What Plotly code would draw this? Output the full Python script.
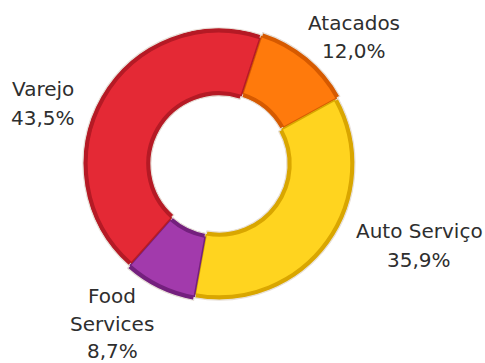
import plotly.graph_objects as go

# Sales channel shares (%)
categories = ["Atacados", "Auto Serviço", "Food Services", "Varejo"]
shares = [12.0, 35.9, 8.7, 43.5]
label_lines = [["Atacados"], ["Auto Serviço"], ["Food", "Services"], ["Varejo"]]

face_colors = ["#FF7A0C", "#FFD41F", "#A23AAC", "#E42935"]
rim_colors = ["#D65A00", "#D9A600", "#74207E", "#B51A25"]
pulls = [0.02, 0.0, 0.02, 0.0]

W, H = 485, 363
cx, cy = 219, 164          # donut centre in pixels
R_out, R_in = 136, 68      # outer / inner radius in pixels
bevel = 4


def domain(r, maxpull):
    half = r * (1 + maxpull)
    return dict(x=[(cx - half) / W, (cx + half) / W],
                y=[1 - (cy + half) / H, 1 - (cy - half) / H])


mp = max(pulls)
common = dict(labels=categories, values=shares, sort=False, direction="clockwise",
              rotation=18, pull=pulls, textinfo="none", hoverinfo="skip",
              showlegend=False)

fig = go.Figure()
# darker rim underneath
fig.add_trace(go.Pie(**common, hole=R_in / R_out, domain=domain(R_out, mp),
                     marker=dict(colors=rim_colors,
                                 line=dict(color="#E8E0D8", width=1.2))))
# brighter face on top, inset to leave a bevelled edge
fig.add_trace(go.Pie(**common, hole=(R_in + bevel) / (R_out - bevel),
                     domain=domain(R_out - bevel, mp),
                     marker=dict(colors=face_colors,
                                 line=dict(color=rim_colors, width=1.5))))


def fmt(v):
    return f"{v:.1f}".replace(".", ",") + "%"


# label anchors: centre x, first-line y and line step (pixels)
label_pos = {
    "Atacados": (354, 23, 28.5),
    "Auto Serviço": (419, 231, 28.5),
    "Food Services": (112, 296, 27.5),
    "Varejo": (43, 89, 28.5),
}

for cat, lines, v in zip(categories, label_lines, shares):
    x, y0, step = label_pos[cat]
    for i, txt in enumerate(lines + [fmt(v)]):
        fig.add_annotation(
            x=x / W, y=1 - (y0 + i * step) / H, xref="paper", yref="paper",
            text=txt, showarrow=False, xanchor="center", yanchor="middle",
            font=dict(family="DejaVu Sans", size=20, color="#2E2E2E"),
        )

fig.update_layout(width=W, height=H, margin=dict(l=0, r=0, t=0, b=0),
                  paper_bgcolor="white", plot_bgcolor="white")
fig.write_html("out.html")
